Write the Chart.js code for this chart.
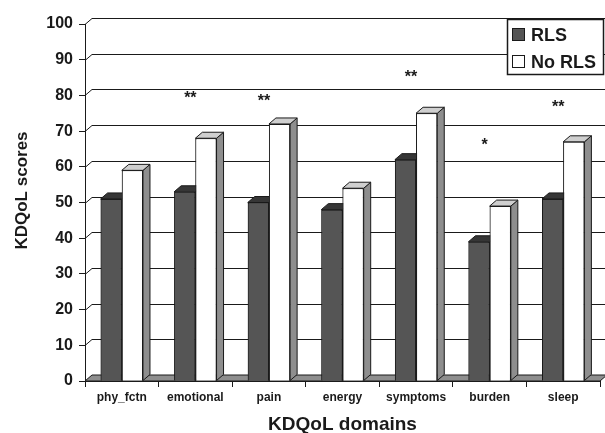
<!DOCTYPE html>
<html>
<head>
<meta charset="utf-8">
<script src="https://cdn.jsdelivr.net/npm/chart.js@4/dist/chart.umd.min.js"></script>
<style>
  html, body { margin: 0; padding: 0; background: #fff; }
  canvas { display: block; }
</style>
</head>
<body>
<canvas id="c" width="605" height="433"></canvas>
<script>
// KDQoL domain scores, patients with and without RLS
const domains = ['phy_fctn', 'emotional', 'pain', 'energy', 'symptoms', 'burden', 'sleep'];
const rlsScores = [51, 53, 50, 48, 62, 39, 51];
const noRlsScores = [59, 68, 72, 54, 75, 49, 67];
// significance markers and the score level they are written at
const significance = ['', '**', '**', '', '**', '*', '**'];
const significanceLevel = [null, 80.4, 79.6, null, 86.4, 67.1, 77.8];
const yMin = 0, yMax = 100, yStep = 10;

const FONT = '"Liberation Sans", Arial, Helvetica, sans-serif';
const INK = '#1a1a1a';
const DX = 7, DY = 6; // depth offset of the 3-D boxes and walls

function poly(ctx, pts, fill) {
  ctx.beginPath();
  ctx.moveTo(pts[0][0], pts[0][1]);
  for (let i = 1; i < pts.length; i++) ctx.lineTo(pts[i][0], pts[i][1]);
  ctx.closePath();
  if (fill) { ctx.fillStyle = fill; ctx.fill(); }
  ctx.stroke();
}

const box3d = {
  id: 'box3d',
  beforeDatasetsDraw(chart) {
    const { ctx, chartArea: a, scales: { y } } = chart;
    ctx.save();
    ctx.strokeStyle = INK;
    ctx.lineWidth = 1;
    // floor slab
    const y0 = y.getPixelForValue(yMin);
    poly(ctx, [[a.left, y0], [a.right, y0], [a.right + DX, y0 - DY], [a.left + DX, y0 - DY]], '#8e8e8e');
    // gridlines on the back wall, joined to the front axis
    y.ticks.forEach(t => {
      if (t.value === yMin) return;
      const py = Math.round(y.getPixelForValue(t.value)) + 0.5;
      ctx.beginPath();
      ctx.moveTo(a.left, py);
      ctx.lineTo(a.left + DX, py - DY);
      ctx.lineTo(a.right + DX, py - DY);
      ctx.stroke();
    });
    ctx.restore();
  },
  afterDatasetsDraw(chart) {
    // paint boxes left to right so each front face hides its neighbour's side
    const { ctx } = chart;
    const boxes = [];
    chart.data.datasets.forEach((ds, di) => {
      chart.getDatasetMeta(di).data.forEach(bar => boxes.push({ ds, bar }));
    });
    boxes.sort((p, q) => p.bar.x - q.bar.x);
    ctx.save();
    ctx.strokeStyle = INK;
    ctx.lineWidth = 1;
    boxes.forEach(({ ds, bar }) => {
      const { x, y, width, base } = bar.getProps(['x', 'y', 'width', 'base'], true);
      const l = x - width / 2, r = x + width / 2;
      poly(ctx, [[r, y], [r + DX, y - DY], [r + DX, base - DY], [r, base]], ds.sideColor);
      poly(ctx, [[l, y], [r, y], [r + DX, y - DY], [l + DX, y - DY]], ds.topColor);
      bar.draw(ctx);
    });
    ctx.restore();
  },
  afterDraw(chart) {
    const { ctx, chartArea: a, scales: { x, y } } = chart;
    ctx.save();
    ctx.fillStyle = INK;

    // significance asterisks
    ctx.font = 'bold 16px ' + FONT;
    ctx.textAlign = 'center';
    ctx.textBaseline = 'alphabetic';
    significance.forEach((s, i) => {
      if (!s) return;
      ctx.fillText(s, x.getPixelForValue(i) - 5, y.getPixelForValue(significanceLevel[i]) + 9);
    });

    // axis titles
    ctx.font = 'bold 17px ' + FONT;
    ctx.save();
    ctx.translate(27, 190.5);
    ctx.rotate(-Math.PI / 2);
    ctx.fillText('KDQoL scores', 0, 0);
    ctx.restore();
    ctx.font = 'bold 19px ' + FONT;
    ctx.fillText('KDQoL domains', (a.left + a.right) / 2, 430);

    // legend
    ctx.fillStyle = '#fff';
    ctx.strokeStyle = INK;
    ctx.lineWidth = 1.5;
    ctx.fillRect(507, 19, 97, 55);
    ctx.strokeRect(507.5, 19.5, 96, 55);
    ctx.lineWidth = 1;
    ctx.font = 'bold 18px ' + FONT;
    ctx.textAlign = 'left';
    ctx.textBaseline = 'middle';
    chart.data.datasets.forEach((ds, i) => {
      const cy = 35 + i * 27;
      ctx.fillStyle = ds.backgroundColor;
      ctx.fillRect(512.5, cy - 6.5, 12, 12);
      ctx.strokeRect(512.5, cy - 6.5, 12, 12);
      ctx.fillStyle = INK;
      ctx.fillText(ds.label, 531, cy + 1);
    });
    ctx.restore();
  }
};

new Chart(document.getElementById('c'), {
  type: 'bar',
  data: {
    labels: domains,
    datasets: [
      {
        label: 'RLS', data: rlsScores,
        backgroundColor: '#555555', topColor: '#363636', sideColor: '#3f3f3f',
        borderColor: INK, borderWidth: 1,
        categoryPercentage: 0.576, barPercentage: 1
      },
      {
        label: 'No RLS', data: noRlsScores,
        backgroundColor: '#ffffff', topColor: '#cfcfcf', sideColor: '#8e8e8e',
        borderColor: INK, borderWidth: 1,
        categoryPercentage: 0.576, barPercentage: 1
      }
    ]
  },
  options: {
    responsive: false,
    animation: false,
    devicePixelRatio: 1,
    layout: { padding: { top: 24, right: 5, left: 0, bottom: 0 } },
    plugins: { legend: { display: false }, tooltip: { enabled: false } },
    scales: {
      x: {
        grid: { offset: true, drawOnChartArea: false, drawTicks: true, tickLength: 6, color: INK },
        border: { color: INK, width: 1 },
        ticks: { font: { family: FONT, size: 12, weight: 'bold' }, color: INK, padding: 3, maxRotation: 0, autoSkip: false },
        afterFit(s) { s.height = 52; }
      },
      y: {
        min: yMin, max: yMax,
        grid: { drawOnChartArea: false, drawTicks: true, tickLength: 6, color: INK },
        border: { color: INK, width: 1 },
        ticks: { stepSize: yStep, font: { family: FONT, size: 16, weight: 'bold' }, color: INK, padding: 6 },
        afterFit(s) { s.width = 85; }
      }
    }
  },
  plugins: [box3d]
});
</script>
</body>
</html>
